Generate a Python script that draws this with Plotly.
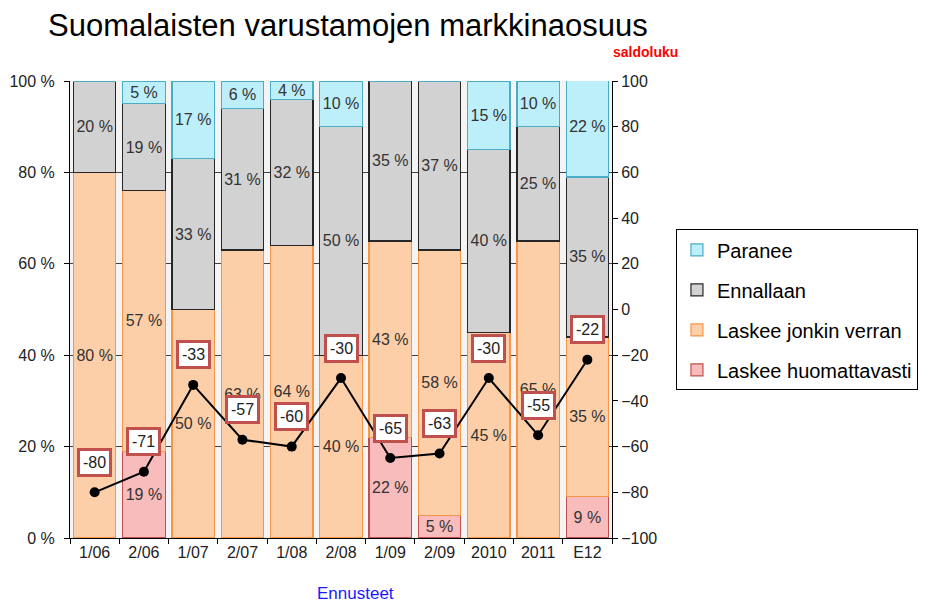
import plotly.graph_objects as go

categories = ["1/06", "2/06", "1/07", "2/07", "1/08", "2/08", "1/09", "2/09", "2010", "2011", "E12"]
laskee_huomattavasti = [0, 19, 0, 0, 0, 0, 22, 5, 0, 0, 9]
laskee_jonkin_verran = [80, 57, 50, 63, 64, 40, 43, 58, 45, 65, 35]
ennallaan = [20, 19, 33, 31, 32, 50, 35, 37, 40, 25, 35]
paranee = [0, 5, 17, 6, 4, 10, 0, 0, 15, 10, 22]
saldoluku = [-80, -71, -33, -57, -60, -30, -65, -63, -30, -55, -22]
left_ticks = [0, 20, 40, 60, 80, 100]
right_ticks = [-100, -80, -60, -40, -20, 0, 20, 40, 60, 80, 100]

series = [
    ("Laskee huomattavasti", laskee_huomattavasti, "#f8bcbc", "#c0504d", 4),
    ("Laskee jonkin verran", laskee_jonkin_verran, "#fccfa8", "#f79646", 3),
    ("Ennallaan", ennallaan, "#d2d2d2", "#262626", 2),
    ("Paranee", paranee, "#bdeffb", "#4bacc6", 1),
]

FONT = "Liberation Sans, Arial"

fig = go.Figure()
for name, vals, fill, line, rank in series:
    fig.add_trace(go.Bar(
        x=categories, y=vals, name=name, legendgroup=name, legendrank=rank,
        marker=dict(color=fill, line=dict(color=line, width=1.2)),
        text=[f"{v} %" if v else "" for v in vals],
        texttemplate="%{text}",
        textposition="inside", insidetextanchor="middle", textangle=0,
        constraintext="none",
        textfont=dict(family=FONT, size=16, color="#333333"),
        hoverinfo="skip",
    ))

fig.add_trace(go.Scatter(
    x=categories, y=saldoluku, yaxis="y2", mode="lines+markers",
    line=dict(color="black", width=2),
    marker=dict(color="black", size=10),
    showlegend=False, hoverinfo="skip",
))

for i, v in enumerate(saldoluku):
    fig.add_annotation(
        x=i, y=v, yref="y2", xref="x", text=str(v), showarrow=False,
        yshift=30, bgcolor="white", bordercolor="#c0504d", borderwidth=3,
        borderpad=3, font=dict(family=FONT, size=16, color="#222222"),
    )

fig.add_annotation(
    text="Suomalaisten varustamojen markkinaosuus", xref="paper", yref="paper",
    x=0.513, y=1.0, yshift=56, showarrow=False, xanchor="center", yanchor="middle",
    font=dict(family=FONT, size=31, color="black"),
)
fig.add_annotation(
    text="<b>saldoluku</b>", xref="paper", yref="paper",
    x=1.061, y=1.0, yshift=29, showarrow=False, xanchor="center", yanchor="middle",
    font=dict(family=FONT, size=14, color="#ff0000"),
)
fig.add_annotation(
    text="Ennusteet", xref="paper", yref="paper",
    x=0.526, y=0, yshift=-55, showarrow=False, xanchor="center", yanchor="middle",
    font=dict(family=FONT, size=17, color="#1a1aff"),
)

fig.update_layout(
    width=936, height=603,
    margin=dict(l=62, r=332, t=73, b=73, autoexpand=False),
    barmode="stack", bargap=0.14,
    plot_bgcolor="#f4f4f4", paper_bgcolor="white",
    font=dict(family=FONT, size=16, color="#222222"),
    xaxis=dict(
        type="category", range=[-0.5, len(categories) - 0.5], automargin=False,
        showline=True, linecolor="black", linewidth=1,
        ticks="outside", ticklen=5, tickcolor="black", tickson="boundaries",
        tickfont=dict(size=16, color="#222222"),
    ),
    yaxis=dict(
        range=[0, 100], tickvals=left_ticks, ticktext=[f"{t} %" for t in left_ticks],
        automargin=False,
        showline=True, linecolor="black", linewidth=1, ticks="outside", ticklen=5,
        tickcolor="black", showgrid=True, gridcolor="#404040", gridwidth=1,
        zeroline=False, tickfont=dict(size=16, color="#222222"),
        ticklabelstandoff=6,
    ),
    yaxis2=dict(
        range=[-100, 100], tickvals=right_ticks, overlaying="y", side="right",
        automargin=False,
        showline=True, linecolor="black", linewidth=1, ticks="outside", ticklen=5,
        tickcolor="black", showgrid=False, zeroline=False,
        tickfont=dict(size=16, color="#222222"),
    ),
    legend=dict(
        x=1.118, y=0.499, xanchor="left", yanchor="middle",
        traceorder="grouped", tracegroupgap=11,
        bordercolor="black", borderwidth=1, bgcolor="white",
        font=dict(family=FONT, size=20, color="black"),
    ),
    showlegend=True,
)

fig.write_html("out.html")
